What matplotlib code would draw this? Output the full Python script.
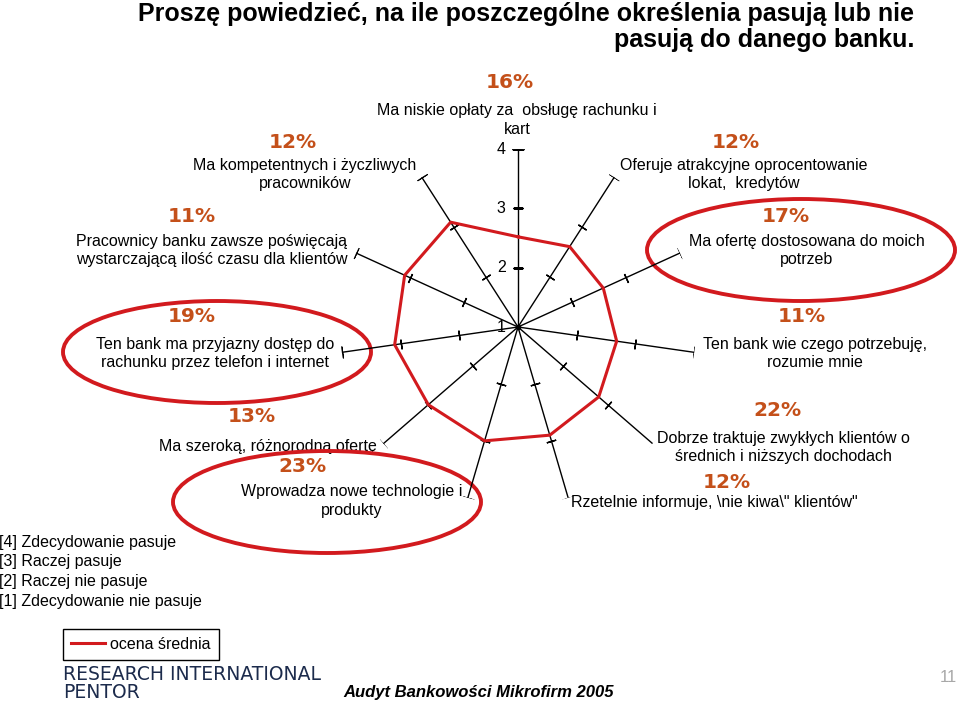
import matplotlib
matplotlib.use('Agg')
import matplotlib.pyplot as plt
import numpy as np
from matplotlib.patches import Ellipse

# data
categories = [
    'Ma niskie opłaty za  obsługę rachunku i\nkart',
    'Oferuje atrakcyjne oprocentowanie\nlokat,  kredytów',
    'Ma ofertę dostosowana do moich\npotrzeb',
    'Ten bank wie czego potrzebuję,\nrozumie mnie',
    'Dobrze traktuje zwykłych klientów o\nśrednich i niższych dochodach',
    'Rzetelnie informuje, \\nie kiwa\\" klientów"',
    'Wprowadza nowe technologie i\nprodukty',
    'Ma szeroką, różnorodną ofertę',
    'Ten bank ma przyjazny dostęp do\nrachunku przez telefon i internet',
    'Pracownicy banku zawsze poświęcają\nwystarczającą ilość czasu dla klientów',
    'Ma kompetentnych i życzliwych\npracowników',
]
mean_score = [2.52, 2.61, 2.58, 2.68, 2.80, 2.90, 3.00, 3.00, 3.10, 3.10, 3.10]
top_share = ['16%', '12%', '17%', '11%', '22%', '12%', '23%', '13%', '19%', '11%', '12%']
scale_ticks = [1, 2, 3, 4]
scale_legend = ['[4] Zdecydowanie pasuje', '[3] Raczej pasuje',
                '[2] Raczej nie pasuje', '[1] Zdecydowanie nie pasuje']
highlighted = [2, 6, 8]

# layout (pixel positions of label blocks: percent, label)
pct_pos = [(510, 82), (736, 142), (786, 217), (802, 317), (777, 410), (727, 483),
           (302, 467), (252, 417), (192, 317), (192, 217), (293, 142)]
lab_pos = [(517, 120), (744, 174.5), (807, 250.5), (815, 353.5), (783, 447.5), (714, 502),
           (352, 501), (268, 447), (215, 353.5), (212, 250.5), (305, 174.5)]
ell_pos = {2: (801, 250), 6: (327, 502), 8: (217, 352)}

RED = '#D21A1E'
PCT = '#C4501A'
W, H = 960, 706
LAB = 'Liberation Sans'

fig = plt.figure(figsize=(9.6, 7.06), dpi=100)

# overlay in pixel units for annotations
ov = fig.add_axes([0, 0, 1, 1])
ov.set_xlim(0, W)
ov.set_ylim(H, 0)
ov.axis('off')

cx, cy, R = 518, 327, 178
ax = fig.add_axes([(cx - R) / W, (H - cy - R) / H, 2 * R / W, 2 * R / H], projection='polar')
ax.set_theta_zero_location('N')
ax.set_theta_direction(-1)
ax.set_ylim(1, 4)
ax.grid(False)
ax.set_xticks([])
ax.set_yticks([])
ax.spines['polar'].set_visible(False)
ax.patch.set_alpha(0)

n = len(categories)
theta = np.arange(n) * 2 * np.pi / n
for t in theta:
    ang = 90 - np.degrees(t)
    ax.plot([t, t], [1, 4], color='black', lw=1, zorder=2)
    ax.plot([t, t], [2, 3], ls='none', marker=(2, 2, ang), ms=7, mew=1, color='black', zorder=2)
    ax.plot([t], [4], ls='none', marker=(2, 2, ang), ms=8.5, mew=1, color='black', zorder=2)
ax.plot([0], [1], 'o', color='black', ms=3, zorder=3)

for v in scale_ticks:
    ax.annotate(str(v), xy=(0, v), xytext=(-12, 0), textcoords='offset points',
                ha='center', va='center', fontsize=11.5, family=LAB)

tc = np.append(theta, theta[0])
vc = np.append(mean_score, mean_score[0])
line, = ax.plot(tc, vc, color=RED, lw=2.2, zorder=4, label='ocena średnia')

for i in range(n):
    ov.text(*pct_pos[i], top_share[i], ha='center', va='center', fontsize=14.5,
            fontweight='bold', color=PCT, family='DejaVu Sans')
    ov.text(*lab_pos[i], categories[i], ha='center', va='center', fontsize=11.5,
            family=LAB, linespacing=1.3)

for i in highlighted:
    ov.add_patch(Ellipse(ell_pos[i], 308, 102, fill=False, ec=RED, lw=2.8, zorder=5))

ov.text(914, 27, 'Proszę powiedzieć, na ile poszczególne określenia pasują lub nie\npasują do danego banku.',
        ha='right', va='center', fontsize=18, fontweight='bold', family=LAB, linespacing=1.15)

for k, s in enumerate(scale_legend):
    ov.text(-1, 542 + k * 19.7, s, ha='left', va='center', fontsize=11.5, family=LAB)

fig.legend(handles=[line], labels=['ocena średnia'], loc='upper left',
           bbox_to_anchor=(63 / W, 1 - 629 / H), fancybox=False, edgecolor='black',
           framealpha=1, prop={'family': LAB, 'size': 11.5}, handlelength=2.1,
           handletextpad=0.35, borderpad=0.5, borderaxespad=0)
fig.legends[0].get_frame().set_linewidth(1.0)
fig.legends[0]._legend_box.sep = 0

ov.text(63, 675, 'RESEARCH INTERNATIONAL', ha='left', va='center', fontsize=13.5,
        color='#1C2B4C', family='DejaVu Sans')
ov.text(63, 693, 'PENTOR', ha='left', va='center', fontsize=13.5,
        color='#1C2B4C', family='DejaVu Sans')
ov.text(343, 693, 'Audyt Bankowości Mikrofirm 2005', ha='left', va='center', fontsize=12,
        fontweight='bold', style='italic', family=LAB)
ov.text(957, 678, '11', ha='right', va='center', fontsize=12, color='#A8A8A8', family=LAB)

fig.savefig('out.png', dpi=100)
